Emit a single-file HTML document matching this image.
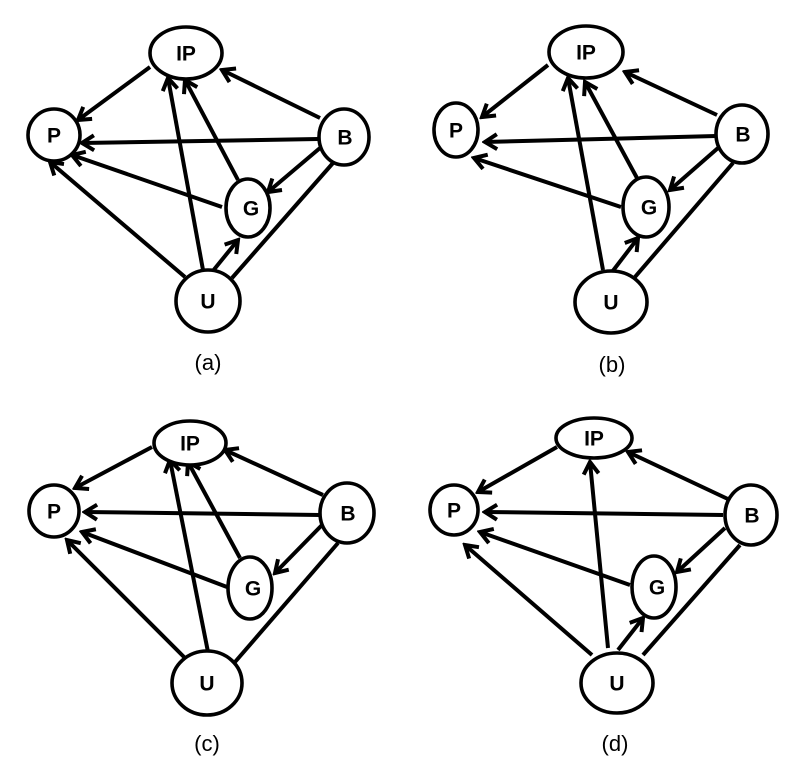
<!DOCTYPE html>
<html><head><meta charset="utf-8"><style>
html,body{margin:0;padding:0;background:#fff}
svg{display:block}
text{font-family:"Liberation Sans",sans-serif;fill:#000}
.n{font-size:21px;font-weight:bold;text-anchor:middle;dominant-baseline:central}
.l{font-size:22px;text-anchor:middle}
ellipse{fill:#fff;stroke:#000;stroke-width:3.6}
line{stroke:#000;stroke-width:4}
.a{marker-end:url(#ah)}
</style></head><body>
<svg width="800" height="780" viewBox="0 0 800 780" xmlns="http://www.w3.org/2000/svg">
<defs>
<marker id="ah" markerUnits="userSpaceOnUse" viewBox="-15 -10 18 20" refX="0" refY="0" markerWidth="18" markerHeight="20" orient="auto">
<polyline points="-12,-7.5 0,0 -12,7.5" fill="none" stroke="#000" stroke-width="4"/>
</marker>
</defs>

<!-- (a) -->
<g>
<line class="a" x1="150" y1="67" x2="78" y2="120"/>
<line class="a" x1="320" y1="118" x2="222" y2="70"/>
<line class="a" x1="318" y1="139" x2="82" y2="143"/>
<line class="a" x1="222" y1="207" x2="72" y2="155"/>
<line class="a" x1="185" y1="277" x2="50" y2="162"/>
<line class="a" x1="203" y1="270" x2="168" y2="78"/>
<line class="a" x1="238" y1="180" x2="185" y2="80"/>
<line class="a" x1="320" y1="148" x2="268" y2="192"/>
<line class="a" x1="212" y1="272" x2="238" y2="240"/>
<line x1="232" y1="278" x2="333" y2="163"/>
<ellipse cx="186" cy="53" rx="36" ry="26"/><text class="n" x="186" y="54">IP</text>
<ellipse cx="54" cy="135" rx="26" ry="26"/><text class="n" x="54" y="136">P</text>
<ellipse cx="344" cy="137" rx="25" ry="28"/><text class="n" x="345" y="138">B</text>
<ellipse cx="248" cy="208" rx="22" ry="29"/><text class="n" x="251" y="209">G</text>
<ellipse cx="208" cy="301" rx="32" ry="31"/><text class="n" x="208" y="302">U</text>
<text class="l" x="208" y="370">(a)</text>
</g>

<!-- (b) -->
<g transform="translate(400,0)">
<line class="a" x1="148" y1="65" x2="82" y2="117"/>
<line class="a" x1="317" y1="115" x2="225" y2="72"/>
<line class="a" x1="316" y1="136" x2="85" y2="142"/>
<line class="a" x1="221" y1="207" x2="74" y2="158"/>
<line class="a" x1="203" y1="270" x2="168" y2="78"/>
<line class="a" x1="237" y1="178" x2="185" y2="82"/>
<line class="a" x1="318" y1="148" x2="270" y2="190"/>
<line class="a" x1="212" y1="272" x2="238" y2="238"/>
<line x1="235" y1="277" x2="333" y2="163"/>
<ellipse cx="186" cy="52" rx="37" ry="26"/><text class="n" x="186" y="53">IP</text>
<ellipse cx="56" cy="130" rx="22" ry="27"/><text class="n" x="56" y="131">P</text>
<ellipse cx="342" cy="134" rx="26" ry="29"/><text class="n" x="343" y="135">B</text>
<ellipse cx="246" cy="207" rx="23" ry="30"/><text class="n" x="249" y="208">G</text>
<ellipse cx="211" cy="302" rx="36" ry="31"/><text class="n" x="211" y="303">U</text>
<text class="l" x="212" y="372">(b)</text>
</g>

<!-- (c) -->
<g transform="translate(0,390)">
<line class="a" x1="152" y1="57" x2="75" y2="98"/>
<line class="a" x1="323" y1="105" x2="225" y2="60"/>
<line class="a" x1="320" y1="125" x2="85" y2="122"/>
<line class="a" x1="227" y1="197" x2="82" y2="142"/>
<line class="a" x1="185" y1="268" x2="67" y2="150"/>
<line class="a" x1="208" y1="262" x2="170" y2="70"/>
<line class="a" x1="240" y1="168" x2="188" y2="72"/>
<line class="a" x1="322" y1="135" x2="275" y2="183"/>
<line x1="235" y1="272" x2="338" y2="153"/>
<ellipse cx="190" cy="53" rx="36" ry="22"/><text class="n" x="190" y="54">IP</text>
<ellipse cx="54" cy="121" rx="25" ry="26"/><text class="n" x="54" y="122">P</text>
<ellipse cx="347" cy="123" rx="27" ry="30"/><text class="n" x="348" y="124">B</text>
<ellipse cx="250" cy="198" rx="22" ry="31"/><text class="n" x="253" y="199">G</text>
<ellipse cx="207" cy="293" rx="35" ry="32"/><text class="n" x="207" y="294">U</text>
<text class="l" x="207" y="361">(c)</text>
</g>

<!-- (d) -->
<g transform="translate(400,390)">
<line class="a" x1="157" y1="57" x2="78" y2="102"/>
<line class="a" x1="330" y1="110" x2="228" y2="62"/>
<line class="a" x1="323" y1="125" x2="85" y2="122"/>
<line class="a" x1="230" y1="195" x2="80" y2="142"/>
<line class="a" x1="192" y1="265" x2="65" y2="155"/>
<line class="a" x1="208" y1="258" x2="190" y2="72"/>
<line class="a" x1="325" y1="138" x2="277" y2="182"/>
<line class="a" x1="218" y1="260" x2="243" y2="228"/>
<line x1="243" y1="265" x2="340" y2="155"/>
<ellipse cx="194" cy="48" rx="38" ry="20"/><text class="n" x="194" y="49">IP</text>
<ellipse cx="54" cy="120" rx="24" ry="25"/><text class="n" x="54" y="121">P</text>
<ellipse cx="351" cy="125" rx="26" ry="30"/><text class="n" x="352" y="126">B</text>
<ellipse cx="254" cy="197" rx="22" ry="31"/><text class="n" x="257" y="198">G</text>
<ellipse cx="217" cy="293" rx="36" ry="30"/><text class="n" x="217" y="294">U</text>
<text class="l" x="215" y="361">(d)</text>
</g>
</svg>
</body></html>
